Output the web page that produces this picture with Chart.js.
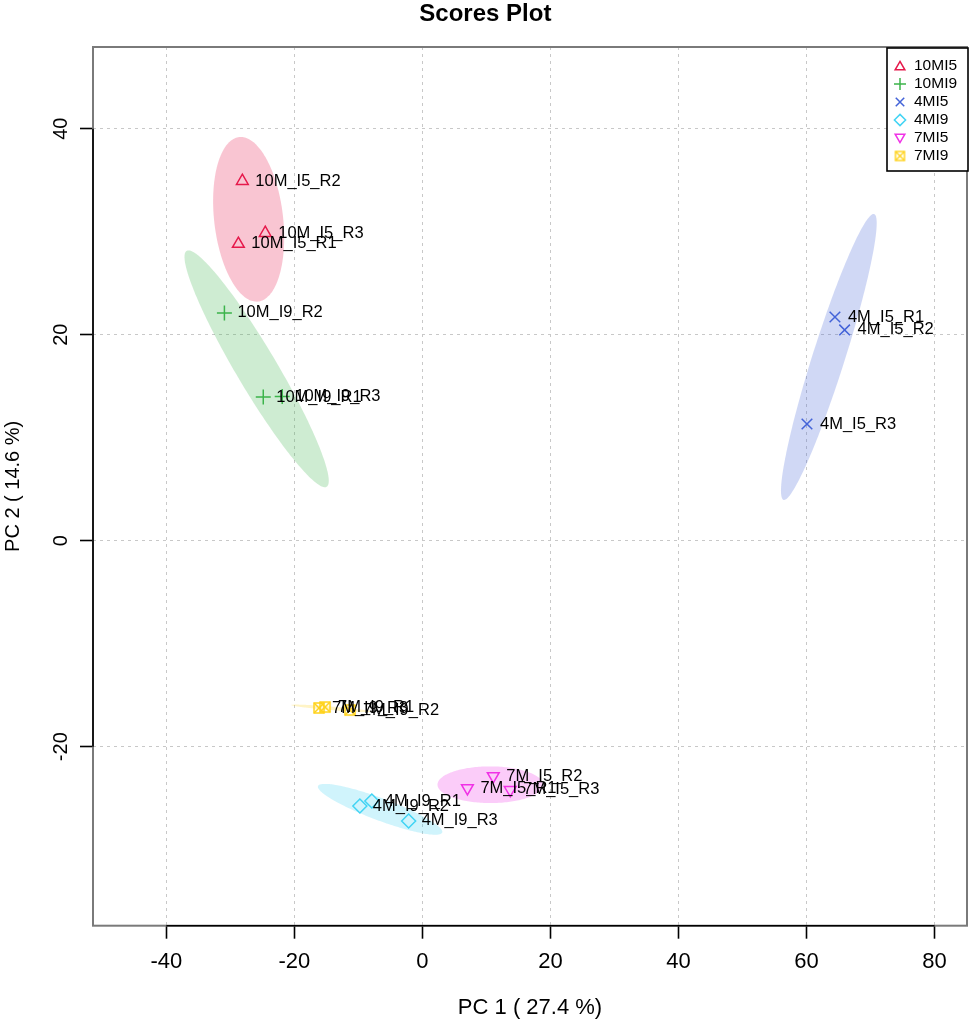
<!DOCTYPE html>
<html>
<head>
<meta charset="utf-8">
<script src="https://cdn.jsdelivr.net/npm/chart.js@4/dist/chart.umd.min.js"></script>
<style>
html,body{margin:0;padding:0;background:#fff;}
#wrap{width:976px;height:1026px;position:relative;}
</style>
</head>
<body>
<div id="wrap"><canvas id="c" width="976" height="1026"></canvas></div>
<script>
// ---- Data ----
const groupNames = ['10MI5', '10MI9', '4MI5', '4MI9', '7MI5', '7MI9'];
const groupColors = ['#e6194B', '#3cb44b', '#4363d8', '#42d4f4', '#f032e6', '#ffd21a'];

const labels10MI5 = ['10M_I5_R1', '10M_I5_R2', '10M_I5_R3'];
const pc1_10MI5 = [-28.75, -28.13, -24.55];
const pc2_10MI5 = [28.81, 34.92, 29.87];

const labels10MI9 = ['10M_I9_R1', '10M_I9_R2', '10M_I9_R3'];
const pc1_10MI9 = [-24.86, -30.93, -21.90];
const pc2_10MI9 = [13.95, 22.11, 14.00];

const labels4MI5 = ['4M_I5_R1', '4M_I5_R2', '4M_I5_R3'];
const pc1_4MI5 = [64.45, 65.96, 60.08];
const pc2_4MI5 = [21.72, 20.46, 11.33];

const labels4MI9 = ['4M_I9_R1', '4M_I9_R2', '4M_I9_R3'];
const pc1_4MI9 = [-7.90, -9.77, -2.15];
const pc2_4MI9 = [-25.27, -25.76, -27.21];

const labels7MI5 = ['7M_I5_R1', '7M_I5_R2', '7M_I5_R3'];
const pc1_7MI5 = [7.03, 11.07, 13.72];
const pc2_7MI5 = [-24.02, -22.86, -24.20];

const labels7MI9 = ['7M_I9_R1', '7M_I9_R2', '7M_I9_R3'];
const pc1_7MI9 = [-15.21, -11.32, -16.15];
const pc2_7MI9 = [-16.15, -16.44, -16.24];

const xTickValues = [-40, -20, 0, 20, 40, 60, 80];
const yTickValues = [-20, 0, 20, 40];
const chartTitle = 'Scores Plot';
const xTitle = 'PC 1 ( 27.4 %)';
const yTitle = 'PC 2 ( 14.6 %)';

// ---- Build ----
const FONT = "'Liberation Sans', Arial, Helvetica, sans-serif";

function makeSquareCross(color, size, lw) {
  const c = document.createElement('canvas');
  const pad = 2;
  c.width = size + pad * 2; c.height = size + pad * 2;
  const g = c.getContext('2d');
  g.strokeStyle = color; g.lineWidth = lw;
  g.strokeRect(pad, pad, size, size);
  g.beginPath();
  g.moveTo(pad, pad); g.lineTo(pad + size, pad + size);
  g.moveTo(pad + size, pad); g.lineTo(pad, pad + size);
  g.stroke();
  return c;
}

const sqMain = makeSquareCross(groupColors[5], 10, 1.5);
const sqLegend = makeSquareCross(groupColors[5], 9, 1.4);

const pc1s = [pc1_10MI5, pc1_10MI9, pc1_4MI5, pc1_4MI9, pc1_7MI5, pc1_7MI9];
const pc2s = [pc2_10MI5, pc2_10MI9, pc2_4MI5, pc2_4MI9, pc2_7MI5, pc2_7MI9];
const sampleLabels = [labels10MI5, labels10MI9, labels4MI5, labels4MI9, labels7MI5, labels7MI9];
const styles = ['triangle', 'cross', 'crossRot', 'rectRot', 'triangle', sqMain];
const legendStyles = ['triangle', 'cross', 'crossRot', 'rectRot', 'triangle', sqLegend];
const rotations = [0, 0, 0, 0, 180, 0];
const radii = [6.8, 7.5, 7.5, 7, 6.8, 6];
const legendRadii = [5.6, 6, 6, 5.6, 5.6, 5];

function hexA(hex, a) {
  const h = hex.replace('#', '');
  const r = parseInt(h.substr(0, 2), 16), g = parseInt(h.substr(2, 2), 16), b = parseInt(h.substr(4, 2), 16);
  return `rgba(${r},${g},${b},${a})`;
}

const datasets = groupNames.map((name, gi) => ({
  label: name,
  data: pc1s[gi].map((x, i) => ({ x: x, y: pc2s[gi][i] })),
  sampleNames: sampleLabels[gi],
  pointStyle: styles[gi],
  pointRotation: rotations[gi],
  pointRadius: radii[gi],
  borderColor: groupColors[gi],
  backgroundColor: 'rgba(0,0,0,0)',
  pointBorderWidth: 1.5,
  showLine: false
}));

// 95% confidence ellipses computed from each group's points (as the ellipse package does)
const ellipsePlugin = {
  id: 'ellipses',
  beforeDatasetsDraw(chart) {
    const ctx = chart.ctx, xs = chart.scales.x, ys = chart.scales.y, a = chart.chartArea;
    const t = Math.sqrt(5.991464547107979);
    ctx.save();
    ctx.beginPath(); ctx.rect(a.left, a.top, a.right - a.left, a.bottom - a.top); ctx.clip();
    chart.data.datasets.forEach((ds, gi) => {
      const pts = ds.data, n = pts.length;
      const mx = pts.reduce((s, p) => s + p.x, 0) / n;
      const my = pts.reduce((s, p) => s + p.y, 0) / n;
      let sxx = 0, syy = 0, sxy = 0;
      pts.forEach(p => { sxx += (p.x - mx) ** 2; syy += (p.y - my) ** 2; sxy += (p.x - mx) * (p.y - my); });
      sxx /= (n - 1); syy /= (n - 1); sxy /= (n - 1);
      const sx = Math.sqrt(sxx), sy = Math.sqrt(syy);
      let r = sxy / (sx * sy); r = Math.max(-1, Math.min(1, r));
      const d = Math.acos(r);
      ctx.beginPath();
      for (let k = 0; k <= 200; k++) {
        const ang = (k / 200) * Math.PI * 2;
        const ex = t * sx * Math.cos(ang + d / 2) + mx;
        const ey = t * sy * Math.cos(ang - d / 2) + my;
        const px = xs.getPixelForValue(ex), py = ys.getPixelForValue(ey);
        if (k === 0) ctx.moveTo(px, py); else ctx.lineTo(px, py);
      }
      ctx.closePath();
      ctx.fillStyle = hexA(groupColors[gi], 0.25);
      ctx.fill();
    });
    ctx.restore();
  }
};

const labelPlugin = {
  id: 'pointLabels',
  afterDatasetsDraw(chart) {
    const ctx = chart.ctx;
    ctx.save();
    ctx.font = `16.5px ${FONT}`;
    ctx.fillStyle = '#000';
    ctx.textAlign = 'left';
    ctx.textBaseline = 'middle';
    chart.data.datasets.forEach((ds, gi) => {
      const meta = chart.getDatasetMeta(gi);
      meta.data.forEach((el, i) => {
        ctx.fillText(ds.sampleNames[i], el.x + 13, el.y);
      });
    });
    ctx.restore();
  }
};

const framePlugin = {
  id: 'frame',
  afterDraw(chart) {
    const ctx = chart.ctx, a = chart.chartArea, xs = chart.scales.x, ys = chart.scales.y;
    ctx.save();
    // box
    ctx.strokeStyle = '#7a7a7a';
    ctx.lineWidth = 2;
    ctx.strokeRect(a.left, a.top, a.right - a.left, a.bottom - a.top);
    // axis lines spanning tick range
    ctx.strokeStyle = '#000';
    ctx.lineWidth = 1.6;
    ctx.beginPath();
    ctx.moveTo(xs.getPixelForValue(xTickValues[0]), a.bottom);
    ctx.lineTo(xs.getPixelForValue(xTickValues[xTickValues.length - 1]), a.bottom);
    ctx.moveTo(a.left, ys.getPixelForValue(yTickValues[0]));
    ctx.lineTo(a.left, ys.getPixelForValue(yTickValues[yTickValues.length - 1]));
    ctx.stroke();

    // legend
    const w = 81, h = 123;
    const lx = a.right - w + 1, ly = a.top + 1;
    ctx.fillStyle = '#fff';
    ctx.fillRect(lx, ly, w, h);
    ctx.strokeStyle = '#000';
    ctx.lineWidth = 1.6;
    ctx.strokeRect(lx, ly, w, h);
    ctx.font = `15.5px ${FONT}`;
    ctx.textAlign = 'left';
    ctx.textBaseline = 'middle';
    chart.data.datasets.forEach((ds, gi) => {
      const yy = ly + 18 + gi * 18;
      const xx = lx + 13;
      ctx.strokeStyle = groupColors[gi];
      ctx.fillStyle = 'rgba(0,0,0,0)';
      ctx.lineWidth = 1.5;
      Chart.helpers.drawPoint(ctx, {
        pointStyle: legendStyles[gi],
        rotation: rotations[gi],
        radius: legendRadii[gi],
        borderWidth: 1.5
      }, xx, yy + (gi === 0 ? 1 : (gi === 4 ? -1 : 0)));
      ctx.fillStyle = '#000';
      ctx.fillText(ds.label, lx + 27, yy);
    });
    ctx.restore();
  }
};

const chart = new Chart(document.getElementById('c'), {
  type: 'scatter',
  data: { datasets: datasets },
  plugins: [ellipsePlugin, labelPlugin, framePlugin],
  options: {
    responsive: false,
    animation: false,
    events: [],
    devicePixelRatio: 1,
    layout: { padding: { top: 0, right: 5.3, bottom: 0, left: 0 } },
    plugins: {
      legend: { display: false },
      tooltip: { enabled: false },
      title: {
        display: true,
        text: chartTitle,
        color: '#000',
        font: { family: FONT, size: 24, weight: 'bold', lineHeight: 1 },
        padding: { top: 2, bottom: 21 }
      }
    },
    scales: {
      x: {
        type: 'linear',
        position: 'bottom',
        min: -51.46,
        max: 85.08,
        afterFit(scale) { scale.height = 100.3; },
        afterBuildTicks(scale) { scale.ticks = xTickValues.map(v => ({ value: v })); },
        ticks: {
          stepSize: 20,
          includeBounds: false,
          autoSkip: false,
          maxRotation: 0,
          color: '#000',
          padding: 10,
          font: { family: FONT, size: 22 }
        },
        grid: {
          color: '#c8c8c8',
          lineWidth: 1,
          drawTicks: true,
          tickLength: 13,
          tickColor: '#000',
          tickWidth: 1.6,
          tickBorderDash: []
        },
        border: { display: false, dash: [3, 4] },
        title: {
          display: true,
          text: xTitle,
          color: '#000',
          font: { family: FONT, size: 22 },
          padding: { top: 0, bottom: 5 }
        }
      },
      y: {
        type: 'linear',
        position: 'left',
        min: -37.38,
        max: 47.93,
        afterFit(scale) { scale.width = 93; },
        afterBuildTicks(scale) { scale.ticks = yTickValues.map(v => ({ value: v })); },
        ticks: {
          stepSize: 20,
          includeBounds: false,
          autoSkip: false,
          minRotation: 90,
          maxRotation: 90,
          crossAlign: 'center',
          color: '#000',
          padding: 4,
          font: { family: FONT, size: 20 }
        },
        grid: {
          color: '#c8c8c8',
          lineWidth: 1,
          drawTicks: true,
          tickLength: 13,
          tickColor: '#000',
          tickWidth: 1.6,
          tickBorderDash: []
        },
        border: { display: false, dash: [3, 4] },
        title: {
          display: true,
          text: yTitle,
          color: '#000',
          font: { family: FONT, size: 20 },
          padding: { top: 1, bottom: 0 }
        }
      }
    }
  }
});
</script>
</body>
</html>
